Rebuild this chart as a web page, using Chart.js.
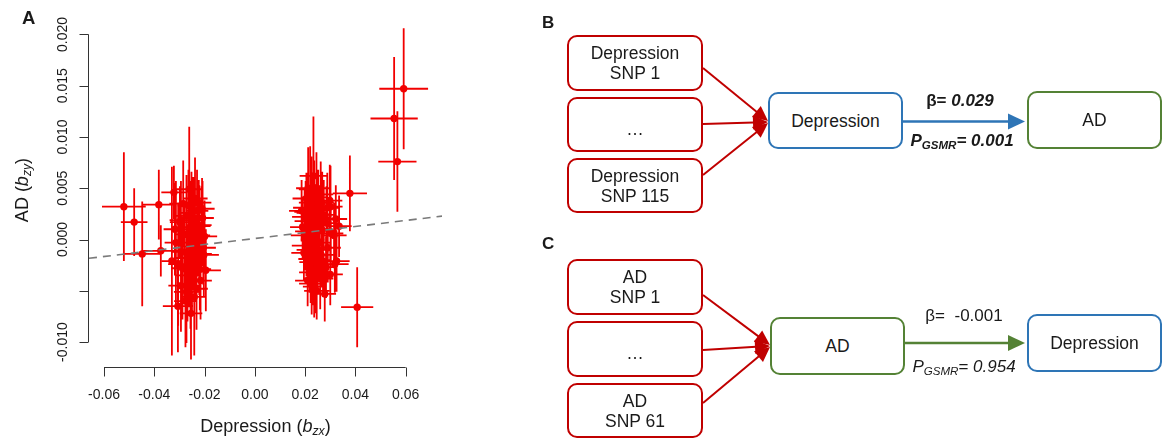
<!DOCTYPE html>
<html><head><meta charset="utf-8">
<script src="https://cdn.jsdelivr.net/npm/chart.js@4"></script>
<style>
html,body{margin:0;padding:0;background:#fff;}
body{width:1164px;height:439px;position:relative;overflow:hidden;font-family:"Liberation Sans",Arial,sans-serif;color:#1a1a1a;}
.abs{position:absolute;white-space:nowrap;}
.lbl{font-weight:bold;font-size:18.5px;line-height:18.5px;}
.plbl{font-weight:bold;font-size:17px;line-height:17px;}
.box{position:absolute;box-sizing:border-box;border:2px solid;border-radius:10px;display:flex;align-items:center;justify-content:center;text-align:center;font-size:17.5px;line-height:20px;background:#fff;}
.red{border-color:#c00000;}
.blue{border-color:#2e75b6;}
.green{border-color:#548235;}
sub{font-size:68%;vertical-align:-0.28em;line-height:0;}
.ann{font-size:17px;line-height:17px;text-align:center;}
</style></head><body>
<canvas id="c" width="480" height="439" style="position:absolute;left:0;top:0;width:480px;height:439px;"></canvas>

<div class="abs lbl" style="left:22px;top:9px;">A</div>
<div class="abs" style="left:0;width:531px;top:417px;font-size:18px;line-height:18px;text-align:center;">Depression (<i>b<sub>zx</sub></i>)</div>
<div class="abs" style="left:-78px;top:181px;width:200px;height:18px;font-size:18px;line-height:18px;text-align:center;transform:rotate(-90deg);transform-origin:50% 50%;">AD (<i>b<sub>zy</sub></i>)</div>

<svg id="arrows" width="1164" height="439" style="position:absolute;left:0;top:0;"></svg>

<div class="abs plbl" style="left:542px;top:14px;">B</div>
<div class="box red" style="left:567px;top:35px;width:136px;height:56px;">Depression<br>SNP 1</div>
<div class="box red" style="left:567px;top:97px;width:136px;height:55px;padding-top:8px;">…</div>
<div class="box red" style="left:567px;top:158px;width:136px;height:55px;">Depression<br>SNP 115</div>
<div class="box blue" style="left:768px;top:92px;width:135px;height:57px;">Depression</div>
<div class="box green" style="left:1027px;top:91px;width:135px;height:58px;">AD</div>
<div class="abs ann" style="left:880px;width:160px;top:92px;font-weight:bold;">β= <i>0.029</i></div>
<div class="abs ann" style="left:882px;width:160px;top:132px;font-weight:bold;font-style:italic;">P<sub>GSMR</sub>= 0.001</div>

<div class="abs plbl" style="left:542px;top:235px;">C</div>
<div class="box red" style="left:567px;top:259px;width:136px;height:56px;">AD<br>SNP 1</div>
<div class="box red" style="left:567px;top:321px;width:136px;height:56px;padding-top:8px;">…</div>
<div class="box red" style="left:567px;top:383px;width:136px;height:55px;">AD<br>SNP 61</div>
<div class="box green" style="left:770px;top:317px;width:135px;height:58px;">AD</div>
<div class="box blue" style="left:1027px;top:314px;width:135px;height:58px;">Depression</div>
<div class="abs ann" style="left:884px;width:160px;top:307px;">β=&nbsp; -0.001</div>
<div class="abs ann" style="left:884px;width:160px;top:358px;"><i>P</i><sub><i>GSMR</i></sub>= <i>0.954</i></div>

<script>
// ---- Panel A data: SNP effects on depression (b_zx) and AD (b_zy) ----
const bzx = [
 -0.0521,-0.0480,-0.0448,-0.0382,-0.0374,-0.0322,-0.0261,-0.0223,-0.0314,-0.0330,
 -0.0305,-0.0294,-0.0298,-0.0306,-0.0272,-0.0254,-0.0241,-0.0221,-0.0221,-0.0195,
 -0.0203,-0.0241,-0.0294,-0.0272,-0.0264,-0.0212,-0.0272,-0.0245,-0.0205,-0.0219,
 -0.0245,-0.0210,-0.0258,-0.0280,-0.0235,-0.0285,-0.0230,-0.0250,-0.0268,-0.0288,
 -0.0228,-0.0216,-0.0262,-0.0238,-0.0252,-0.0200,-0.0318,-0.0276,-0.0256,-0.0232,
 -0.0208,
 0.0233,0.0298,0.0301,0.0378,0.0322,0.0335,0.0278,0.0407,0.0325,0.0271,
 0.0205,0.0212,0.0198,0.0220,0.0245,0.0262,0.0228,0.0190,0.0215,0.0240,
 0.0252,0.0230,0.0205,0.0195,0.0218,0.0238,0.0255,0.0268,0.0285,0.0290,
 0.0222,0.0242,0.0260,0.0210,0.0236,0.0300,0.0318,0.0225,0.0210,0.0248,
 0.0232,0.0202,0.0274,0.0264,0.0216,0.0246,0.0283,0.0198,0.0236,0.0256,
 0.0315,0.0228,0.0250,0.0212,0.0186,0.0302,0.0268,0.0242,0.0226,0.0288,
 0.0234,0.0554,0.0592,0.0567
];
const bzy = [
 0.0032,0.0017,-0.0014,0.0034,-0.0011,0.0046,0.0049,0.0036,-0.0003,-0.0021,
 -0.0024,-0.0045,0.0017,-0.0065,-0.0051,-0.0072,-0.0056,0.0013,-0.0014,-0.0030,
 -0.0015,-0.0031,0.0019,0.0023,0.0033,0.0014,0.0005,-0.0007,-0.0008,-0.0029,
 0.0021,0.0030,0.0012,-0.0012,-0.0018,0.0035,0.0028,-0.0025,-0.0035,-0.0028,
 0.0004,-0.0040,-0.0018,0.0040,0.0026,0.0003,0.0010,-0.0060,-0.0045,-0.0048,
 0.0021,
 0.0062,0.0038,0.0032,0.0045,0.0020,0.0013,-0.0053,-0.0066,-0.0021,-0.0021,
 0.0040,0.0031,0.0022,0.0049,0.0050,0.0044,0.0026,0.0012,0.0008,0.0018,
 0.0030,0.0000,-0.0006,-0.0013,-0.0019,-0.0010,-0.0003,0.0009,0.0016,-0.0008,
 -0.0032,-0.0029,-0.0038,-0.0040,-0.0046,-0.0034,-0.0024,0.0036,0.0018,0.0010,
 -0.0022,0.0027,0.0024,-0.0015,-0.0010,-0.0050,-0.0027,0.0004,0.0041,0.0021,
 0.0004,0.0014,-0.0020,0.0050,0.0028,0.0006,0.0036,-0.0038,-0.0043,0.0031,
 0.0028,0.0118,0.0147,0.0076
];
const bzxHalf = [
 0.0087,0.0053,0.0076,0.0066,0.0070,0.0050,0.0050,0.0050,0.0045,0.0040,
 0.0040,0.0050,0.0040,0.0060,0.0050,0.0045,0.0045,0.0045,0.0050,0.0060,
 0.0060,0.0050,0.0045,0.0040,0.0045,0.0040,0.0045,0.0050,0.0050,0.0045,
 0.0045,0.0050,0.0045,0.0050,0.0040,0.0055,0.0045,0.0045,0.0050,0.0045,
 0.0050,0.0045,0.0050,0.0050,0.0048,0.0050,0.0045,0.0045,0.0040,0.0045,
 0.0045,
 0.0055,0.0050,0.0048,0.0068,0.0045,0.0050,0.0045,0.0064,0.0052,0.0050,
 0.0055,0.0060,0.0050,0.0045,0.0058,0.0050,0.0062,0.0050,0.0055,0.0045,
 0.0052,0.0048,0.0058,0.0050,0.0045,0.0060,0.0050,0.0055,0.0048,0.0052,
 0.0046,0.0050,0.0052,0.0050,0.0045,0.0050,0.0055,0.0050,0.0052,0.0060,
 0.0055,0.0045,0.0050,0.0048,0.0050,0.0050,0.0045,0.0055,0.0052,0.0046,
 0.0050,0.0050,0.0052,0.0048,0.0050,0.0050,0.0046,0.0050,0.0050,0.0050,
 0.0050,0.0094,0.0097,0.0076
];
const bzyHalf = [
 0.0053,0.0033,0.0051,0.0034,0.0025,0.0026,0.0061,0.0022,0.0060,0.0092,
 0.0060,0.0045,0.0035,0.0045,0.0050,0.0045,0.0057,0.0040,0.0040,0.0040,
 0.0040,0.0045,0.0038,0.0040,0.0035,0.0038,0.0042,0.0040,0.0036,0.0040,
 0.0040,0.0030,0.0045,0.0050,0.0042,0.0042,0.0040,0.0048,0.0045,0.0050,
 0.0040,0.0038,0.0048,0.0040,0.0040,0.0035,0.0045,0.0045,0.0042,0.0040,
 0.0036,
 0.0058,0.0035,0.0040,0.0037,0.0033,0.0030,0.0027,0.0039,0.0030,0.0035,
 0.0025,0.0030,0.0028,0.0042,0.0035,0.0032,0.0034,0.0030,0.0040,0.0036,
 0.0038,0.0032,0.0030,0.0028,0.0033,0.0040,0.0035,0.0038,0.0036,0.0034,
 0.0030,0.0036,0.0030,0.0025,0.0030,0.0030,0.0028,0.0045,0.0038,0.0030,
 0.0042,0.0030,0.0034,0.0030,0.0036,0.0028,0.0030,0.0032,0.0036,0.0032,
 0.0032,0.0036,0.0032,0.0040,0.0030,0.0032,0.0030,0.0034,0.0030,0.0034,
 0.0035,0.0060,0.0059,0.0049
];
const fitSlope = 0.0293, fitIntercept = 0.0001;
const xTicks = [-0.06,-0.04,-0.02,0,0.02,0.04,0.06];
const xTickLabels = ['-0.06','-0.04','-0.02','0.00','0.02','0.04','0.06'];
const yTicks = [-0.010,-0.005,0,0.005,0.010,0.015,0.020];
const yTickLabels = ['-0.010','','0.000','0.005','0.010','0.015','0.020'];

const X_MIN = -0.06597, X_MAX = 0.07444, Y_MIN = -0.01243, Y_MAX = 0.02199;

const points = bzx.map((v,i)=>({x:v, y:bzy[i]}));
const fitLine = [X_MIN, X_MAX].map(v=>({x:v, y:fitIntercept + fitSlope*v}));

const rPlot = {
  id:'rPlot',
  beforeDatasetsDraw(chart){
    const {ctx, scales:{x,y}} = chart;
    ctx.save();
    ctx.strokeStyle = '#f20000';
    ctx.lineWidth = 1.8;
    ctx.beginPath();
    for(let i=0;i<bzx.length;i++){
      const px = x.getPixelForValue(bzx[i]), py = y.getPixelForValue(bzy[i]);
      ctx.moveTo(x.getPixelForValue(bzx[i]-bzxHalf[i]), py);
      ctx.lineTo(x.getPixelForValue(bzx[i]+bzxHalf[i]), py);
      ctx.moveTo(px, y.getPixelForValue(bzy[i]-bzyHalf[i]));
      ctx.lineTo(px, y.getPixelForValue(bzy[i]+bzyHalf[i]));
    }
    ctx.stroke();
    ctx.restore();
  },
  afterDraw(chart){
    const {ctx, chartArea:ca, scales:{x,y}} = chart;
    ctx.save();
    ctx.strokeStyle = '#333';
    ctx.lineWidth = 1;
    ctx.beginPath();
    const yA = Math.round(ca.bottom)+0.5;
    ctx.moveTo(x.getPixelForValue(xTicks[0]), yA);
    ctx.lineTo(x.getPixelForValue(xTicks[xTicks.length-1]), yA);
    xTicks.forEach(v=>{const p=Math.round(x.getPixelForValue(v))+0.5; ctx.moveTo(p,yA); ctx.lineTo(p,yA+9);});
    const xA = Math.round(ca.left)-0.5;
    ctx.moveTo(xA, y.getPixelForValue(yTicks[0]));
    ctx.lineTo(xA, y.getPixelForValue(yTicks[yTicks.length-1]));
    yTicks.forEach(v=>{const p=Math.round(y.getPixelForValue(v))+0.5; ctx.moveTo(xA,p); ctx.lineTo(xA-9,p);});
    ctx.stroke();
    ctx.fillStyle = '#1a1a1a';
    ctx.font = '14px "Liberation Sans", Arial, sans-serif';
    ctx.textAlign = 'center';
    ctx.textBaseline = 'middle';
    xTicks.forEach((v,i)=>ctx.fillText(xTickLabels[i], x.getPixelForValue(v), 395));
    yTicks.forEach((v,i)=>{
      if(!yTickLabels[i]) return;
      ctx.save();
      ctx.translate(63, y.getPixelForValue(v));
      ctx.rotate(-Math.PI/2);
      ctx.fillText(yTickLabels[i], 0, 0);
      ctx.restore();
    });
    ctx.restore();
  }
};

new Chart(document.getElementById('c'), {
  data:{
    datasets:[
      {type:'scatter', data:points, pointRadius:3.7, pointHoverRadius:3.7, backgroundColor:'#f20000', borderWidth:0, order:2},
      {type:'line', data:fitLine, borderColor:'#7a7a7a', borderWidth:1.6, borderDash:[8,6], pointRadius:0, fill:false, order:1}
    ]
  },
  options:{
    responsive:false, animation:false, devicePixelRatio:1,
    layout:{padding:{left:89, right:38, top:14, bottom:72}},
    scales:{
      x:{type:'linear', display:false, min:X_MIN, max:X_MAX},
      y:{type:'linear', display:false, min:Y_MIN, max:Y_MAX}
    },
    plugins:{legend:{display:false}, tooltip:{enabled:false}}
  },
  plugins:[rPlot]
});

// ---- Panels B and C: arrows ----
const svg = document.getElementById('arrows');
const NS = 'http://www.w3.org/2000/svg';
function arrow(x1,y1,x2,y2,color,w,hl,hw){
  const dx=x2-x1, dy=y2-y1, L=Math.hypot(dx,dy), ux=dx/L, uy=dy/L;
  const bx=x2-ux*hl, by=y2-uy*hl;
  const ln=document.createElementNS(NS,'line');
  ln.setAttribute('x1',x1); ln.setAttribute('y1',y1); ln.setAttribute('x2',bx+ux*1); ln.setAttribute('y2',by+uy*1);
  ln.setAttribute('stroke',color); ln.setAttribute('stroke-width',w);
  svg.appendChild(ln);
  const pg=document.createElementNS(NS,'polygon');
  pg.setAttribute('points',`${x2},${y2} ${bx-uy*hw},${by+ux*hw} ${bx+uy*hw},${by-ux*hw}`);
  pg.setAttribute('fill',color);
  svg.appendChild(pg);
}
arrow(703,68,768,121,'#c00000',2,15,7);
arrow(703,124,768,122,'#c00000',2,15,7);
arrow(703,175,768,123,'#c00000',2,15,7);
arrow(903,121.5,1025,121.5,'#2e75b6',2.5,17,8);
arrow(703,295,770,345,'#c00000',2,15,7);
arrow(703,350,770,346,'#c00000',2,15,7);
arrow(703,403,770,347,'#c00000',2,15,7);
arrow(905,343,1025,343,'#548235',2.5,17,8);
</script>
</body></html>
